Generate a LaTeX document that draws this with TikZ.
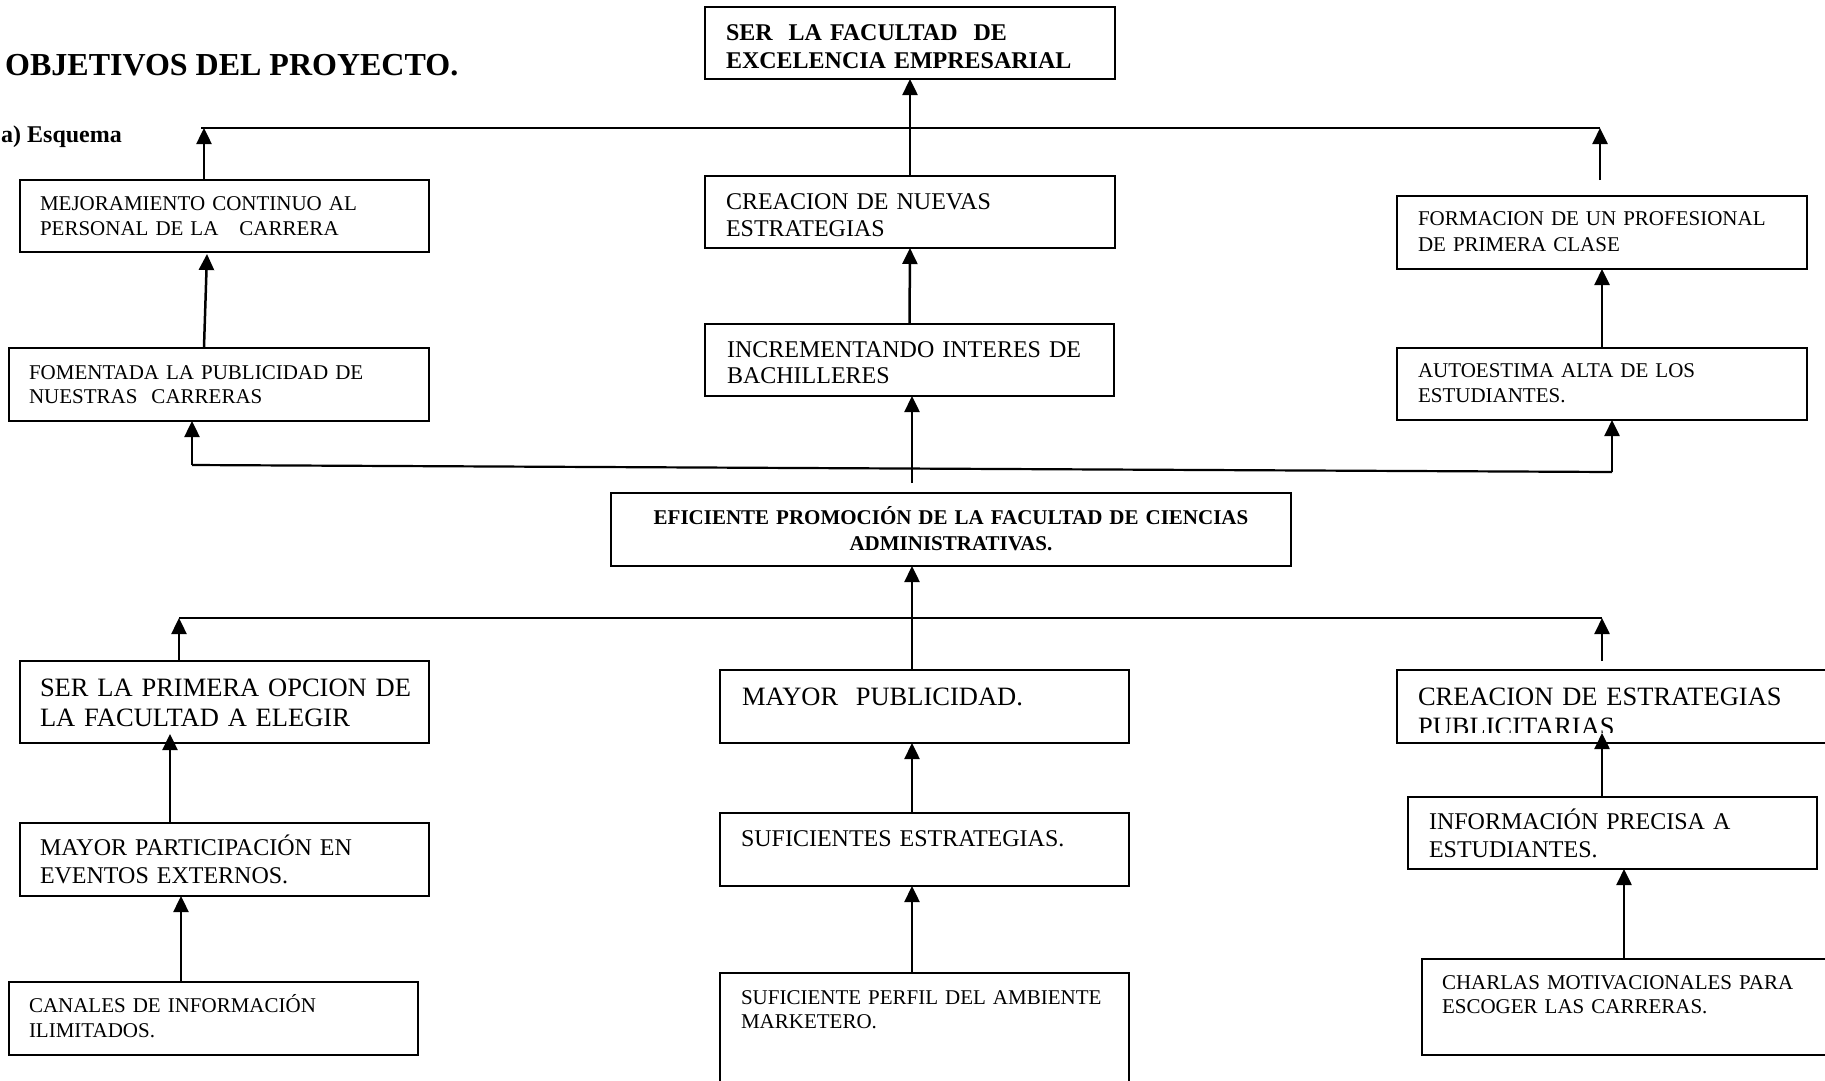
\documentclass[tikz,border=0pt]{standalone}
\usepackage{fontspec}
\setmainfont{Liberation Serif}
\usetikzlibrary{arrows.meta}
\begin{document}
\begin{tikzpicture}[x=1pt,y=-1pt]
\tikzset{
  box/.style={draw, line width=1.8pt, anchor=north west, inner sep=0pt, outer sep=0pt},
  txt/.style={anchor=base west, inner sep=0pt, outer sep=0pt, align=left, text width=430pt},
  arr/.style={line width=2.5pt, -{Triangle[length=16pt,width=15pt]}},
  hline/.style={line width=1.3pt},
  fa/.style={font=\fontsize{21}{#1}\selectfont},
  fb/.style={font=\fontsize{24}{#1}\selectfont},
  fc/.style={font=\fontsize{26.5}{#1}\selectfont},
}
\fill[white] (0,0) rectangle (1825,1080);
\useasboundingbox (0,0) rectangle (1825,1080);

% titles
\node[anchor=base west, inner sep=0pt, font=\bfseries\fontsize{32}{36}\selectfont] (title) at (5,75) {OBJETIVOS DEL PROYECTO.};
\node[anchor=base west, inner sep=0pt, font=\bfseries\fontsize{24}{28}\selectfont] (esq) at (1,142) {a) Esquema};

% upper boxes
\node[box, minimum width=410pt, minimum height=72pt] (top) at (705,7) {};
\node[txt, font=\bfseries\fontsize{24}{28}\selectfont] (topt) at (726,40) {SER\ \ LA FACULTAD\ \ DE\\EXCELENCIA EMPRESARIAL};

\node[box, minimum width=409pt, minimum height=72pt] (mej) at (20,180) {};
\node[txt, fa=25] (mejt) at (40,210) {MEJORAMIENTO CONTINUO AL\\PERSONAL DE LA\ \ \ CARRERA};

\node[box, minimum width=410pt, minimum height=72pt] (cn) at (705,176) {};
\node[txt, fb=27] (cnt) at (726,209) {CREACION DE NUEVAS\\ESTRATEGIAS};

\node[box, minimum width=410pt, minimum height=73pt] (form) at (1397,196) {};
\node[txt, fa=25.5] (formt) at (1418,225.5) {FORMACION DE UN PROFESIONAL\\DE PRIMERA CLASE};

\node[box, minimum width=420pt, minimum height=73pt] (fom) at (9,348) {};
\node[txt, fa=24] (fomt) at (29,379) {FOMENTADA LA PUBLICIDAD DE\\NUESTRAS\ \ CARRERAS};

\node[box, minimum width=409pt, minimum height=72pt] (inc) at (705,324) {};
\node[txt, fb=26] (inct) at (727,357) {INCREMENTANDO INTERES DE\\BACHILLERES};

\node[box, minimum width=410pt, minimum height=72pt] (aut) at (1397,348) {};
\node[txt, fa=25] (autt) at (1418,377) {AUTOESTIMA ALTA DE LOS\\ESTUDIANTES.};

\node[box, minimum width=680pt, minimum height=73pt] (ef) at (611,493) {};
\node[anchor=base, inner sep=0pt, align=center, text width=660pt, font=\bfseries\fontsize{21}{26}\selectfont] (eft) at (951,524) {EFICIENTE PROMOCIÓN DE LA FACULTAD DE CIENCIAS\\ADMINISTRATIVAS.};

% lower boxes
\node[box, minimum width=409pt, minimum height=82pt] (sp) at (20,661) {};
\node[txt, fc=30] (spt) at (40,696) {SER LA PRIMERA OPCION DE\\LA FACULTAD A ELEGIR};

\node[box, minimum width=409pt, minimum height=73pt] (mp) at (720,670) {};
\node[txt, fc=30] (mpt) at (742,705) {MAYOR\ \ PUBLICIDAD.};

\node[box, minimum width=440pt, minimum height=73pt] (ce) at (1397,670) {};
\begin{scope}
\clip (1397,670) rectangle (1825,732);
\node[txt, fc=30] (cet) at (1418,705) {CREACION DE ESTRATEGIAS\\PUBLICITARIAS};
\end{scope}

\node[box, minimum width=409pt, minimum height=73pt] (mpa) at (20,823) {};
\node[txt, fb=28] (mpat) at (40,855) {MAYOR PARTICIPACIÓN EN\\EVENTOS EXTERNOS.};

\node[box, minimum width=409pt, minimum height=73pt] (suf) at (720,813) {};
\node[txt, fb=28] (suft) at (741,846) {SUFICIENTES ESTRATEGIAS.};

\node[box, minimum width=409pt, minimum height=72pt] (info) at (1408,797) {};
\node[txt, fb=28] (infot) at (1429,829) {INFORMACIÓN PRECISA A\\ESTUDIANTES.};

\node[box, minimum width=409pt, minimum height=73pt] (can) at (9,982) {};
\node[txt, fa=25] (cant) at (29,1012) {CANALES DE INFORMACIÓN\\ILIMITADOS.};

\node[box, minimum width=409pt, minimum height=130pt] (perf) at (720,973) {};
\node[txt, fa=24] (perft) at (741,1004) {SUFICIENTE PERFIL DEL AMBIENTE\\MARKETERO.};

\node[box, minimum width=420pt, minimum height=96pt] (ch) at (1422,959) {};
\node[txt, fa=24.5] (cht) at (1442,989) {CHARLAS MOTIVACIONALES PARA\\ESCOGER LAS CARRERAS.};

% upper connectors
\coordinate (L1a) at (201,128);
\coordinate (L1b) at (1600,128);
\draw[hline] (L1a) -- (L1b);
\coordinate (x204) at (204,128);
\draw[arr] (mej.north -| x204) -- (x204);
\draw[arr] (cn.north) -- (top.south);
\coordinate (r1) at (1600,180);
\draw[arr] (r1) -- (L1b);
\coordinate (f1) at (204,347);
\coordinate (f2) at (207,254);
\draw[arr] (f1) -- (f2);
\draw[arr] (inc.north) -- (cn.south);
\draw[arr] (aut.north) -- (form.south);

\coordinate (e1) at (912,483);
\draw[arr] (e1) -- (inc.south -| e1);
\coordinate (b1) at (192,465);
\coordinate (b2) at (1612,472);
\draw[line width=2.2pt] (b1) -- (b2);
\draw[arr] (b1) -- (fom.south -| b1);
\draw[arr] (b2) -- (aut.south -| b2);

% lower connectors
\coordinate (c912) at (912,618);
\draw[arr] (mp.north -| c912) -- (ef.south -| c912);
\coordinate (L2a) at (179,618);
\coordinate (L2b) at (1602,618);
\draw[hline] (L2a) -- (L2b);
\draw[arr] (sp.north -| L2a) -- (L2a);
\coordinate (r2) at (1602,661);
\draw[arr] (r2) -- (L2b);
\coordinate (a170) at (170,734);
\draw[arr] (mpa.north -| a170) -- (a170);
\coordinate (a181) at (181,900);
\draw[arr] (can.north -| a181) -- (mpa.south -| a181);
\draw[arr] (suf.north -| c912) -- (mp.south -| c912);
\draw[arr] (perf.north -| c912) -- (suf.south -| c912);
\coordinate (a1602) at (1602,733);
\draw[arr] (info.north -| a1602) -- (a1602);
\coordinate (a1624) at (1624,900);
\draw[arr] (ch.north -| a1624) -- (info.south -| a1624);
\end{tikzpicture}
\end{document}
